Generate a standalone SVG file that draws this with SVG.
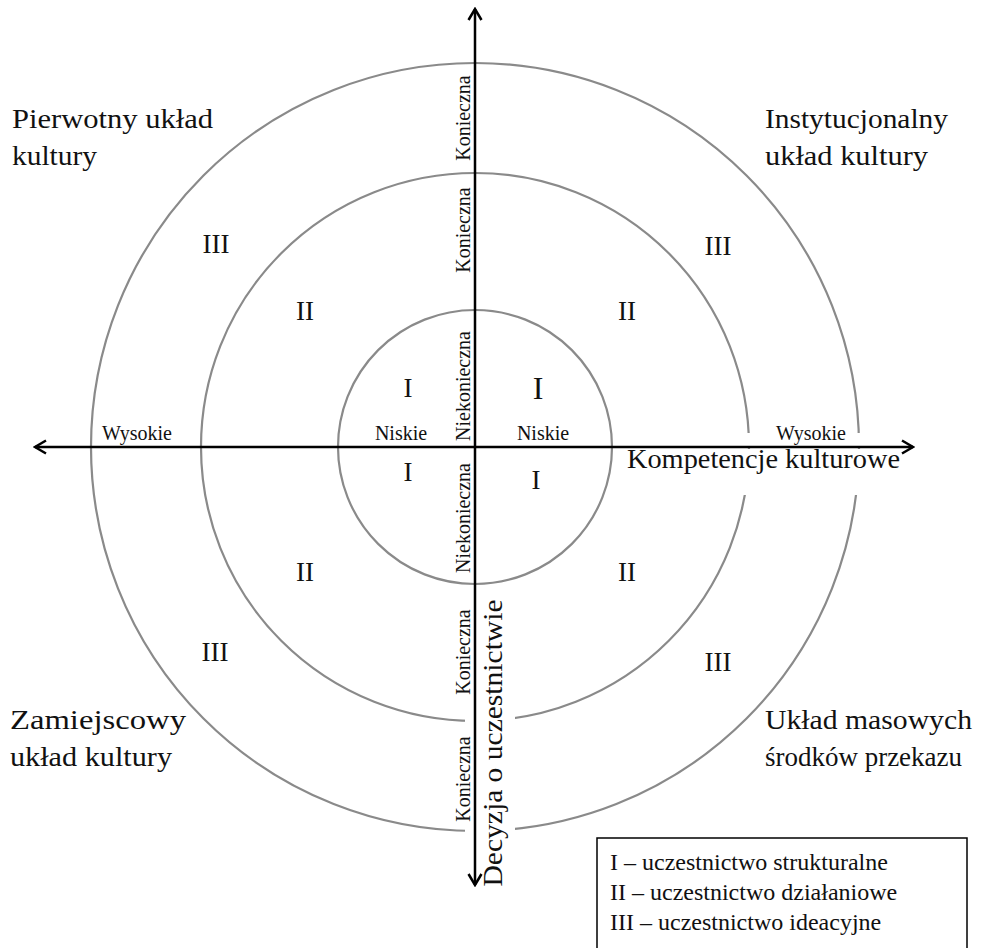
<svg xmlns="http://www.w3.org/2000/svg" width="992" height="948" viewBox="0 0 992 948">
<style>
text{font-family:"Liberation Serif","Times New Roman",serif;fill:#111}
.ring{fill:none;stroke:#8a8a8a;stroke-width:2.2}
.axis{stroke:#000;stroke-width:2.5;fill:none}
.big{font-size:28px}
.num{font-size:27px;text-anchor:middle}
.sm{font-size:20px;text-anchor:middle}
.leg{font-size:24px}
.mask{fill:#fff;stroke:none}
</style>
<defs>
<marker id="arr" viewBox="0 0 16 16" refX="14" refY="8" markerWidth="16" markerHeight="16" orient="auto-start-reverse" markerUnits="userSpaceOnUse">
<path d="M3,1.5 L14,8 L3,14.5" fill="none" stroke="#000" stroke-width="2.5"/>
</marker>
</defs>
<rect width="992" height="948" fill="#fff"/>
<g id="rings">
<circle class="ring" cx="475" cy="447" r="384"/>
<circle class="ring" cx="475" cy="447" r="274"/>
<circle class="ring" cx="475" cy="447" r="137"/>
</g>
<g id="masks">
<rect class="mask" x="465" y="592" width="50" height="298"/>
<rect class="mask" x="745" y="433" width="120" height="14"/>
<rect class="mask" x="622" y="449" width="288" height="46"/>
</g>
<g id="connectors">
<line class="axis" x1="475" y1="885" x2="475" y2="9" marker-start="url(#arr)" marker-end="url(#arr)"/>
<line class="axis" x1="35" y1="447" x2="913" y2="447" marker-start="url(#arr)" marker-end="url(#arr)"/>
</g>
<g id="quadrant-labels">
<g id="pierwotny"><text class="big" x="12" y="128" textLength="201" lengthAdjust="spacingAndGlyphs">Pierwotny układ</text><text class="big" x="12" y="165" textLength="85" lengthAdjust="spacingAndGlyphs">kultury</text></g>
<g id="instytucjonalny"><text class="big" x="765" y="128" textLength="183" lengthAdjust="spacingAndGlyphs">Instytucjonalny</text><text class="big" x="765" y="165" textLength="163" lengthAdjust="spacingAndGlyphs">układ kultury</text></g>
<g id="zamiejscowy"><text class="big" x="10" y="729" textLength="176" lengthAdjust="spacingAndGlyphs">Zamiejscowy</text><text class="big" x="10" y="766" textLength="162" lengthAdjust="spacingAndGlyphs">układ kultury</text></g>
<g id="masowy"><text class="big" x="765" y="729" textLength="207" lengthAdjust="spacingAndGlyphs">Układ masowych</text><text class="big" x="765" y="766" textLength="197" lengthAdjust="spacingAndGlyphs">środków przekazu</text></g>
</g>
<g id="numerals">
<text class="num" x="216" y="253">III</text>
<text class="num" x="305" y="320">II</text>
<text class="num" x="408" y="397">I</text>
<text class="num" x="538" y="399" style="font-size:32px">I</text>
<text class="num" x="718" y="255">III</text>
<text class="num" x="627" y="320">II</text>
<text class="num" x="408" y="481">I</text>
<text class="num" x="536" y="489">I</text>
<text class="num" x="305" y="581">II</text>
<text class="num" x="627" y="581">II</text>
<text class="num" x="215" y="661">III</text>
<text class="num" x="718" y="671">III</text>
</g>
<g id="axis-labels">
<text class="sm" x="401" y="440">Niskie</text>
<text class="sm" x="543" y="440">Niskie</text>
<text class="sm" x="137" y="440">Wysokie</text>
<text class="sm" x="811" y="440">Wysokie</text>
<text x="627" y="468" style="font-size:28px" textLength="273" lengthAdjust="spacingAndGlyphs">Kompetencje kulturowe</text>
<text class="sm" x="470" y="118" transform="rotate(-90 470 118)">Konieczna</text>
<text class="sm" x="470" y="230" transform="rotate(-90 470 230)">Konieczna</text>
<text class="sm" x="470" y="386" transform="rotate(-90 470 386)">Niekonieczna</text>
<text class="sm" x="470" y="518" transform="rotate(-90 470 518)">Niekonieczna</text>
<text class="sm" x="470" y="652" transform="rotate(-90 470 652)">Konieczna</text>
<text class="sm" x="470" y="779" transform="rotate(-90 470 779)">Konieczna</text>
<text x="502" y="743" transform="rotate(-90 502 743)" style="font-size:28px;text-anchor:middle" textLength="287" lengthAdjust="spacingAndGlyphs">Decyzja o uczestnictwie</text>
</g>
<g id="legend">
<rect x="597" y="838" width="370" height="125" fill="#fff" stroke="#000" stroke-width="1.5"/>
<text class="leg" x="610" y="870">I – uczestnictwo strukturalne</text>
<text class="leg" x="610" y="900">II – uczestnictwo działaniowe</text>
<text class="leg" x="610" y="930">III – uczestnictwo ideacyjne</text>
</g>
</svg>
